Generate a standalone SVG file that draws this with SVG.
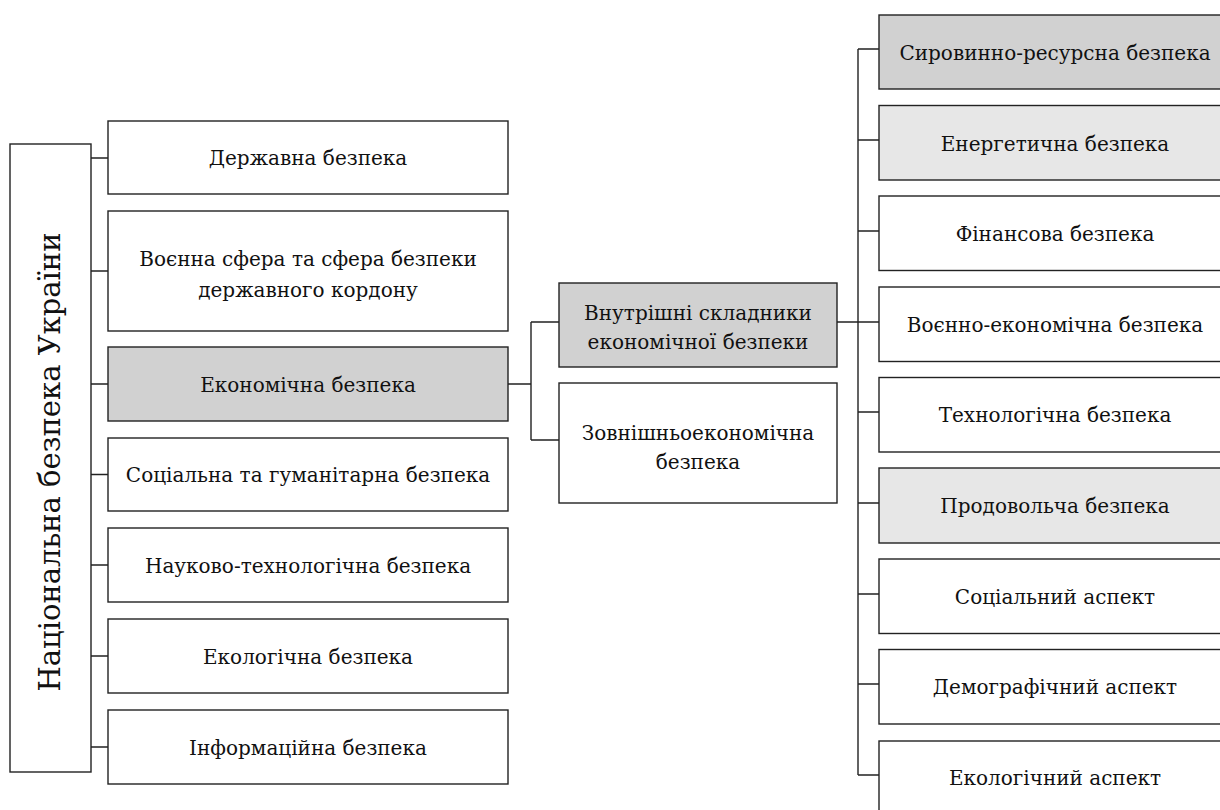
<svg xmlns="http://www.w3.org/2000/svg" width="1220" height="810" viewBox="0 0 1220 810">
<style>
.b{fill:#fff;stroke:#222;stroke-width:1.4}
.g{fill:#d1d1d1;stroke:#222;stroke-width:1.4}
.l{fill:#e7e7e7;stroke:#222;stroke-width:1.4}
.t{font-family:"DejaVu Serif",serif;font-size:20px;fill:#111;text-anchor:middle}
.v{font-family:"DejaVu Serif",serif;font-size:29px;fill:#111;text-anchor:middle;dominant-baseline:central}
.c{fill:none;stroke:#222;stroke-width:1.4}
</style>
<rect width="1220" height="810" fill="#fff"/>
<g id="connectors">
<path class="c" d="M91 158H108M91 271H108M91 384H108M91 474.5H108M91 565H108M91 656H108M91 747H108"/>
<path class="c" d="M508 384H531M531 322V440M531 322H559M531 440H559"/>
<path class="c" d="M837 322H879M858 49V775M858 49H879M858 140H879M858 231H879M858 322H879M858 412H879M858 503H879M858 594H879M858 684H879M858 775H879"/>
</g>
<g id="n0"><rect class="b" x="10" y="144" width="81" height="628"/><text class="v" transform="translate(50 462) rotate(-90)">Національна безпека України</text></g>
<g id="n1"><rect class="b" x="108" y="121" width="400" height="73"/><text class="t" x="308" y="165">Державна безпека</text></g>
<g id="n2"><rect class="b" x="108" y="211" width="400" height="120"/><text class="t" x="308" y="266">Воєнна сфера та сфера безпеки</text><text class="t" x="308" y="297">державного кордону</text></g>
<g id="n3"><rect class="g" x="108" y="347" width="400" height="74"/><text class="t" x="308" y="392">Економічна безпека</text></g>
<g id="n4"><rect class="b" x="108" y="438" width="400" height="73"/><text class="t" x="308" y="482">Соціальна та гуманітарна безпека</text></g>
<g id="n5"><rect class="b" x="108" y="528" width="400" height="74"/><text class="t" x="308" y="573">Науково-технологічна безпека</text></g>
<g id="n6"><rect class="b" x="108" y="619" width="400" height="74"/><text class="t" x="308" y="664">Екологічна безпека</text></g>
<g id="n7"><rect class="b" x="108" y="710" width="400" height="74"/><text class="t" x="308" y="755">Інформаційна безпека</text></g>
<g id="m1"><rect class="g" x="559" y="283" width="278" height="84"/><text class="t" x="698" y="320">Внутрішні складники</text><text class="t" x="698" y="349">економічної безпеки</text></g>
<g id="m2"><rect class="b" x="559" y="383" width="278" height="120"/><text class="t" x="698" y="440">Зовнішньоекономічна</text><text class="t" x="698" y="469">безпека</text></g>
<g id="r1"><rect class="g" x="879" y="15" width="353" height="74"/><text class="t" x="1055" y="60">Сировинно-ресурсна безпека</text></g>
<g id="r2"><rect class="l" x="879" y="105.5" width="353" height="74.5"/><text class="t" x="1055" y="151">Енергетична безпека</text></g>
<g id="r3"><rect class="b" x="879" y="196" width="353" height="74.5"/><text class="t" x="1055" y="241">Фінансова безпека</text></g>
<g id="r4"><rect class="b" x="879" y="287" width="353" height="74.5"/><text class="t" x="1055" y="332">Воєнно-економічна безпека</text></g>
<g id="r5"><rect class="b" x="879" y="377.5" width="353" height="74.5"/><text class="t" x="1055" y="422">Технологічна безпека</text></g>
<g id="r6"><rect class="l" x="879" y="468" width="353" height="75"/><text class="t" x="1055" y="513">Продовольча безпека</text></g>
<g id="r7"><rect class="b" x="879" y="559" width="353" height="74.5"/><text class="t" x="1055" y="604">Соціальний аспект</text></g>
<g id="r8"><rect class="b" x="879" y="649.5" width="353" height="74.5"/><text class="t" x="1055" y="694">Демографічний аспект</text></g>
<g id="r9"><rect class="b" x="879" y="741" width="353" height="80"/><text class="t" x="1055" y="785">Екологічний аспект</text></g>
</svg>
